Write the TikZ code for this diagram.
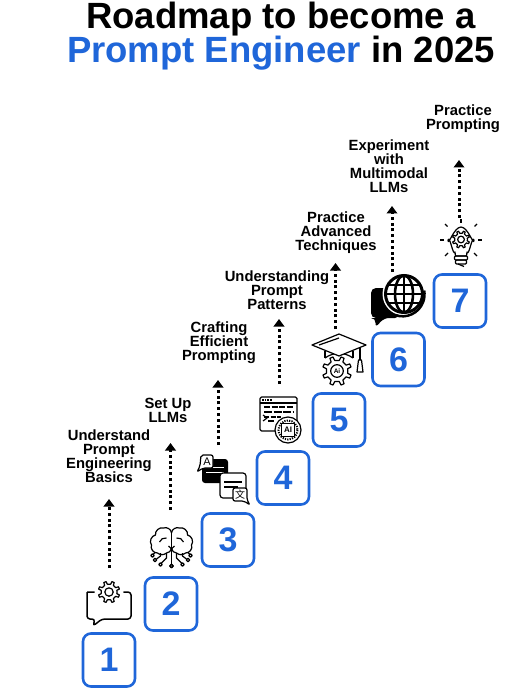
\documentclass[tikz,border=0pt]{standalone}
\usepackage{fontspec}
\setmainfont{Liberation Sans}
\newfontfamily\cjkfont{Noto Sans CJK SC}
\usetikzlibrary{arrows.meta}
\definecolor{roadblue}{HTML}{1F66D9}
\tikzset{
	stepbox/.style={draw=roadblue, line width=2.6pt, rounded corners=8pt, minimum width=52pt, minimum height=53pt, inner sep=0pt, text=roadblue, font=\bfseries\fontsize{34}{34}\selectfont},
	steplabel/.style={align=center, inner sep=0pt, font=\bfseries\fontsize{14.8}{14}\selectfont},
	titleline/.style={inner sep=0pt, anchor=base, font=\bfseries\fontsize{36.5}{36.5}\selectfont},
	roadarrow/.style={line width=3pt, dash pattern=on 3pt off 2.8pt, -{Triangle[length=7.5pt, width=10.5pt]}},
	iconline/.style={draw=black, line width=1.2pt, line join=round},
	geartooth/.pic={
		\draw[iconline, fill=white] (0:8) foreach \a in {0,45,...,315} {-- (\a+12:8) -- (\a+16:10.8) -- (\a+29:10.8) -- (\a+33:8)} -- cycle;
		\draw[iconline] (0,0) circle (4.2);
	},
	brainhalf/.pic={
		\draw[iconline] (0,-15) to[bend right=55] (-8,-20) to[bend right=60] (-16,-13) to[bend right=60] (-20,-3) to[bend right=60] (-14,5) to[bend right=40] (-5,5) to[bend right=30] (0,1);
		\draw[iconline] (0,-15) -- (0,16);
		\draw[iconline] (-5,-10) to[bend right=40] (-12,-6);
		\draw[iconline] (-3,-2) to[bend left=30] (0,3);
		\draw[iconline] (-5,5) -- (-5,10) -- (-10,15);
		\draw[iconline] (-11,5) -- (-11,8) -- (-15,11);
		\draw[iconline] (-16,4) -- (-18,6);
		\draw[iconline] (0,18) circle (1.8);
		\draw[iconline] (-11,16.5) circle (1.8);
		\draw[iconline] (-16.5,12) circle (1.8);
		\draw[iconline] (-19,7.5) circle (1.8);
	}
}
\begin{document}
\begin{tikzpicture}[x=1pt, y=-1pt]
	\useasboundingbox (0,0) rectangle (505,700);

	% title
	\node[titleline] (title1) at (281,29) {Roadmap to become a};
	\node[titleline] (title2) at (281,63) {\textcolor{roadblue}{Prompt Engineer} in 2025};

	% numbered steps
	\node[stepbox] (box1) at (109,660) {1};
	\node[stepbox] (box2) at (171,604) {2};
	\node[stepbox] (box3) at (228,540) {3};
	\node[stepbox] (box4) at (283,478) {4};
	\node[stepbox] (box5) at (339,420) {5};
	\node[stepbox] (box6) at (398.5,359.5) {6};
	\node[stepbox] (box7) at (460,301) {7};

	% labels
	\node[steplabel] (label1) at (109,456.5) {Understand\\Prompt\\Engineering\\Basics};
	\node[steplabel] (label2) at (168,410.5) {Set Up\\LLMs};
	\node[steplabel] (label3) at (219,343) {Crafting\\Efficient\\Prompting};
	\node[steplabel] (label4) at (277,290.5) {Understanding\\Prompt\\Patterns};
	\node[steplabel] (label5) at (336,233) {Practice\\Advanced\\Techniques};
	\node[steplabel] (label6) at (389,166) {Experiment\\with\\Multimodal\\LLMs};
	\node[steplabel] (label7) at (463,119) {Practice\\Prompting};

	% dotted arrows
	\coordinate (from1) at (109,568);
	\coordinate (to1) at (109,499);
	\coordinate (from2) at (170.5,510);
	\coordinate (to2) at (170.5,443);
	\coordinate (from3) at (218,445);
	\coordinate (to3) at (218,380);
	\coordinate (from4) at (279,384);
	\coordinate (to4) at (279,319);
	\coordinate (from5) at (335.5,329);
	\coordinate (to5) at (335.5,263);
	\coordinate (from6) at (392,272);
	\coordinate (to6) at (392,206);
	\coordinate (from7) at (459,218);
	\coordinate (to7) at (459,160);
	\draw[roadarrow] (from1)--(to1);
	\draw[roadarrow] (from2)--(to2);
	\draw[roadarrow] (from3)--(to3);
	\draw[roadarrow] (from4)--(to4);
	\draw[roadarrow] (from5)--(to5);
	\draw[roadarrow] (from6)--(to6);
	\draw[roadarrow] (from7)--(to7);

	% icon 1: bubble and gear
	\draw[iconline, line width=1.5pt, rounded corners=3pt] (87,592) -- (87,619) -- (95,619) -- (93,626) -- (102,619) -- (131,619) -- (131,592) -- (87,592);
	\fill[white] (109,592) circle (14.5);
	\pic at (109,592) {geartooth};

	% icon 2: brain
	\pic at (171.5,548) {brainhalf};
	\pic[xscale=-1] at (171.5,548) {brainhalf};

	% icon 3: chat bubbles
	\fill[black, rounded corners=3pt] (202,459) rectangle (228,483);
	\draw[white, line width=1pt] (206,467) -- (224,467);
	\draw[white, line width=1pt] (206,472) -- (224,472);
	\draw[iconline, fill=white, rounded corners=2pt] (201,455) -- (213,455) -- (213,468) -- (203,468) -- (197,472) -- (200,466) -- cycle;
	\node[inner sep=0pt, font=\fontsize{11}{11}\selectfont] (glyphA) at (207,461.5) {A};
	\draw[iconline, fill=white, rounded corners=3pt] (220,473) rectangle (246,498);
	\draw[iconline] (224,482) -- (242,482);
	\draw[iconline] (224,487) -- (238,487);
	\draw[iconline, fill=white, rounded corners=2pt] (233,488) -- (247,488) -- (247,500) -- (250,505) -- (244,501) -- (233,501) -- cycle;
	\node[inner sep=0pt, font=\cjkfont\fontsize{10}{10}\selectfont] (glyphwen) at (240,494.5) {文};

	% icon 4: window and chip
	\draw[iconline, rounded corners=1.5pt] (260,397) rectangle (297,431);
	\draw[iconline] (260,403) -- (297,403);
	\draw[line width=1.1pt, dash pattern=on 1.5pt off 1.2pt] (262,400) -- (272,400);
	\draw[line width=1.1pt, dash pattern=on 6pt off 1.5pt] (264,407) -- (293,407);
	\draw[line width=1.1pt, dash pattern=on 8pt off 1.5pt] (264,412) -- (293,412);
	\draw[line width=1.1pt, dash pattern=on 5pt off 1.5pt] (264,417) -- (281,417);
	\draw[iconline] (263,415) -- (267,418) -- (263,421);
	\draw[line width=1.1pt] (268,421) -- (274,421);
	\draw[iconline, fill=white] (288,430) circle (13);
	\draw[line width=2pt, dash pattern=on 1.2pt off 1.2pt] (288,430) circle (9.5);
	\draw[iconline, line width=1.4pt, fill=white] (281.5,423.5) rectangle (294.5,436.5);
	\node[inner sep=0pt, font=\bfseries\fontsize{8}{8}\selectfont] (glyphAI) at (288,430) {AI};

	% icon 5: graduation cap and gear
	\draw[iconline] (325,358) -- (325,351);
	\draw[iconline] (353,358) -- (353,351);
	\draw[iconline] (325,358) to[bend left=35] (353,358);
	\pic[scale=1.35] at (337,371) {geartooth};
	\fill[white] (337,371) circle (7);
	\draw[iconline] (337,371) circle (6.3);
	\node[inner sep=0pt, font=\bfseries\fontsize{6.5}{6.5}\selectfont] (glyphAi) at (337,371) {Ai};
	\draw[iconline, fill=white] (339,334) -- (366,345) -- (339,356) -- (312,345) -- cycle;
	\draw[iconline] (319,345) -- (339,338);
	\draw[iconline] (360,348) -- (360,360);
	\draw[iconline] (358.5,360) -- (361.5,360) -- (363,372) -- (357,372) -- cycle;

	% icon 6: globe and black bubble
	\fill[black, rounded corners=5pt] (371,288) -- (400,288) -- (400,318) -- (384,318) -- (375,328) -- (376,318) -- (371,318) -- cycle;
	\fill[white] (404,294) circle (21.5);
	\draw[black, line width=3pt, fill=white] (404,294) circle (18.5);
	\draw[black, line width=2.6pt] (404,275.5) -- (404,312.5);
	\draw[black, line width=2.6pt] (404,294) ellipse (9 and 18.5);
	\draw[black, line width=2.6pt] (385.5,294) -- (422.5,294);
	\draw[black, line width=2.6pt] (388,285) -- (420,285);
	\draw[black, line width=2.6pt] (388,303) -- (420,303);
	\draw[black, line width=2.5pt] (395,315) arc[start angle=110, end angle=-10, radius=22];

	% icon 7: light bulb
	\draw[iconline] (455.5,256) -- (455,252) to[out=250, in=70] (448,240) to[out=270, in=180] (461,227) to[out=0, in=270] (474,240) to[out=110, in=290] (467,252) -- (466.5,256) -- cycle;
	\pic[scale=0.8] at (461,239.5) {geartooth};
	\draw[iconline, rounded corners=1pt] (454.5,256) rectangle (467.5,260);
	\draw[iconline, rounded corners=1pt] (455.5,260) rectangle (466.5,264);
	\draw[iconline] (458,264) -- (464,266.5);
	\draw[iconline] (461,223) -- (461,219);
	\draw[iconline] (447.5,226.5) -- (445,224);
	\draw[iconline] (474.5,226.5) -- (477,224);
	\draw[iconline] (444,240) -- (440,240);
	\draw[iconline] (478,240) -- (482,240);
	\draw[iconline] (448,253) -- (445,256);
	\draw[iconline] (474,253) -- (477,256);
\end{tikzpicture}
\end{document}
